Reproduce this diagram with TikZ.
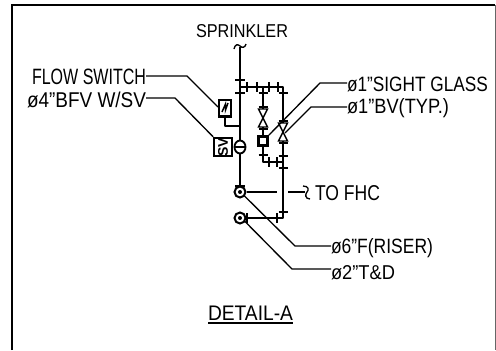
\documentclass[tikz,border=0pt]{standalone}
\usepackage{fontspec}
\usepackage{graphicx}
\setmainfont{Liberation Sans}
\newlength{\pxu}\setlength{\pxu}{0.75pt}
\newcommand{\fitw}[3]{\resizebox{#1\pxu}{#2\pxu}{#3}}
\begin{document}
\begin{tikzpicture}[x=0.75pt,y=-0.75pt,
  pipe/.style={line width=1.4pt,line join=round},
  tick/.style={line width=1.1pt},
  leader/.style={line width=1pt,line join=miter},
  lab/.style={inner sep=0pt,outer sep=0pt,anchor=base west,font=\fontsize{14}{16}\selectfont},
  dev/.style={draw,line width=1.4pt,fill=white,inner sep=0pt},
  port/.style={circle,draw,line width=1.5pt,fill=white,minimum size=11\pxu,inner sep=0pt},
  dotc/.style={circle,fill=black,minimum size=4\pxu,inner sep=0pt}]
\useasboundingbox (0,0) rectangle (496,350);
\fill[white] (0,0) rectangle (496,350);
\draw[line width=1.4pt] (12,350) -- (12,5) -- (495,5);
\draw[line width=0.7pt,black!60] (495,5) -- (495,350);
% labels
\node[lab] (spr) at (196,37) {\fitw{92}{13}{SPRINKLER}};
\node[lab] (fs) at (32,84) {\fitw{114}{15.5}{FLOW SWITCH}};
\node[lab] (bfv) at (27,107) {\fitw{119}{15.5}{ø4"BFV W/SV}};
\node[lab] (sg) at (347,91) {\fitw{141}{14.5}{ø1"SIGHT GLASS}};
\node[lab] (bv) at (347,113.5) {\fitw{102}{15}{ø1"BV(TYP.)}};
\node[lab] (fhc) at (315,200) {\fitw{65}{15}{TO FHC}};
\node[lab] (riser) at (331,253) {\fitw{102}{15}{ø6"F(RISER)}};
\node[lab] (td) at (331,279) {\fitw{64}{14}{ø2"T\&D}};
\node[lab] (det) at (208,320.5) {\fitw{85}{14.5}{DETAIL-A}};
\draw[line width=1.1pt] (208,323) -- (293,323);
% coordinates
\coordinate (top) at (240,47);
\coordinate (tee) at (240,87);
\coordinate (c1) at (240,192);
\coordinate (c2) at (240,218);
\coordinate (corner) at (283,218);
\coordinate (jn) at (283,162);
% main pipes
\draw[pipe] (top) -- (c1);
\draw[pipe] (tee) -- (283,87) -- (corner) -- (c2);
\draw[pipe] (263,87) -- (263,162) -- (jn);
% tilde
\draw[line width=1pt] (234,49) .. controls (235,44) and (238,44) .. (240,46) .. controls (242,48) and (245,48) .. (246,44);
% ticks main
\foreach \y in {80,93} \draw[tick] (235,\y) -- (245,\y);
\foreach \x in {247,257,269,278} \draw[tick] (\x,82) -- (\x,92);
\foreach \x/\y in {263/93,283/93,263/155,283/156,283/168,283/212}
  \draw[tick] (\x-4.5,\y) -- (\x+4.5,\y);
\foreach \x in {269,277} \draw[tick] (\x,157) -- (\x,167);
\draw[tick] (277,213) -- (277,223);
\draw[tick] (247,213) -- (247,223);
\draw[tick] (235,186) -- (245,186);
% ball valves
\foreach \x/\a/\b in {263/109/127,283/123/141}{
  \fill[white] (\x-5,\a) rectangle (\x+5,\b);
  \draw[line width=1.1pt] (\x-4.5,\a) -- (\x+4.5,\a) -- (\x-4.5,\b) -- (\x+4.5,\b) -- cycle;
  \draw[line width=1.6pt] (\x-4.5,\a-2) -- (\x+4.5,\a-2);
  \draw[line width=1.6pt] (\x-4.5,\b+2) -- (\x+4.5,\b+2);
}
% sight glass
\node[dev,minimum size=9\pxu,line width=2.2pt] (sight) at (263,141) {};
% butterfly valve
\draw[line width=1.4pt,fill=white] (240,147) ellipse (5.5 and 6.5);
\draw[line width=1.4pt] (234.5,147) -- (245.5,147);
% SV box
\node[dev,minimum width=18\pxu,minimum height=18\pxu] (sv) at (223,147)
  {\rotatebox{90}{\fontsize{10.5}{10}\selectfont\bfseries SV}};
% flow switch
\draw[pipe] (225,117) -- (225,126) -- (240,126);
\node[dev,minimum width=12\pxu,minimum height=17\pxu,line width=1.6pt] (fsb) at (225,108.5) {};
\draw[line width=2pt] (fsb.south west) ++(0,-1.5) -- ++(12,0);
\draw[line width=1.1pt] (222,112) -- (225.5,104) -- (225.5,110) -- (228,103);
% ports
\node[port] (p1) at (c1) {}; \node[dotc] at (c1) {};
\node[port] (p2) at (c2) {}; \node[dotc] at (c2) {};
% FHC branch
\coordinate (fhcA) at (277,192);
\coordinate (fhcB) at (288,192);
\coordinate (fhcC) at (305,192);
\draw[pipe] (p1) -- (fhcA);
\draw[pipe] (fhcB) -- (fhcC);
\draw[line width=1pt] (303,186) .. controls (309,186) and (309,190) .. (307,192) .. controls (305,194) and (305,199) .. (310,199);
% leaders
\coordinate (k1) at (187,76);
\coordinate (k2) at (175,98);
\coordinate (k3) at (320,83);
\coordinate (k4) at (311,107);
\coordinate (k5) at (295,246);
\coordinate (k6) at (292,269);
\draw[leader] (fs.east |- k1) -- (k1) -- (218,107);
\draw[leader] (bfv.east |- k2) -- (k2) -- (sv.north west);
\draw[leader] (sg.west |- k3) -- (k3) -- (sight.north east);
\draw[leader] (bv.west |- k4) -- (k4) -- (285,133);
\draw[leader] (riser.west |- k5) -- (k5) -- (244.5,196);
\draw[leader] (td.west |- k6) -- (k6) -- (244.5,221);
\end{tikzpicture}
\end{document}
